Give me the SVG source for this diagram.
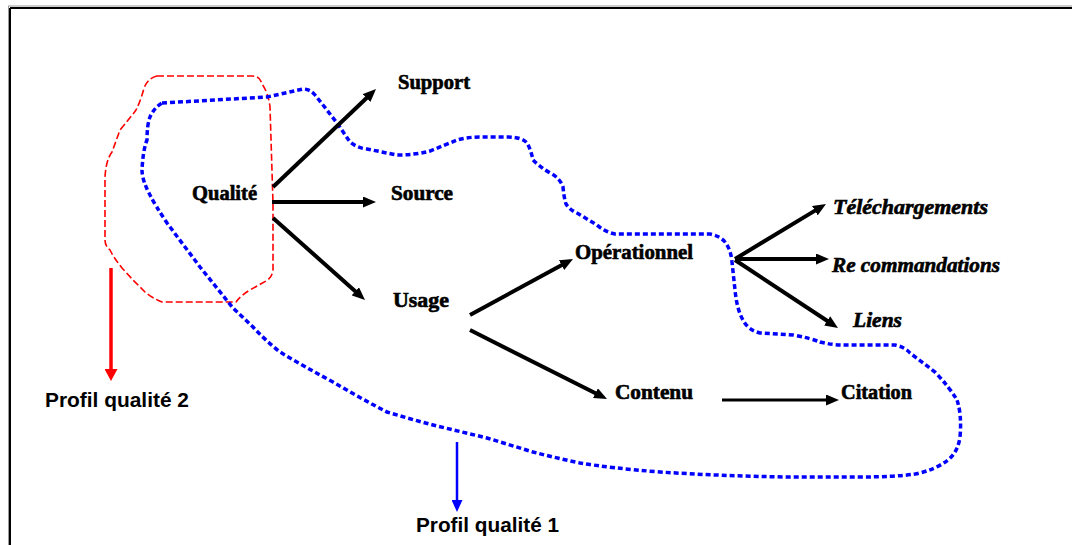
<svg xmlns="http://www.w3.org/2000/svg" width="1072" height="545" viewBox="0 0 1072 545">
  <style>
    .lbl { font-family: "Liberation Serif", "Times New Roman", serif; font-weight: bold; font-size: 20px; fill: #000; stroke: #000; stroke-width: 0.6; }
    .it { font-style: italic; }
    .prof { font-family: "Liberation Sans", Arial, sans-serif; font-weight: bold; font-size: 20px; fill: #000; }
    .arr { stroke: #000; stroke-width: 4; fill: none; marker-end: url(#head); }
    .arr-thin { stroke: #000; stroke-width: 3; fill: none; marker-end: url(#head); }
    .zone2 { fill: none; stroke: #ff0000; stroke-width: 1.6; stroke-dasharray: 7 3; }
    .zone1 { fill: none; stroke: #0000ff; stroke-width: 3.5; stroke-dasharray: 5 3; }
  </style>
  <defs>
    <marker id="head" markerUnits="userSpaceOnUse" markerWidth="13" markerHeight="11" refX="4" refY="5.5" orient="auto">
      <path d="M0,0 L13,5.5 L0,11 Z" fill="#000"/>
    </marker>
    <marker id="head-red" markerUnits="userSpaceOnUse" markerWidth="12" markerHeight="13" refX="4" refY="6.5" orient="auto">
      <path d="M0,0 L12,6.5 L0,13 Z" fill="#ff0000"/>
    </marker>
    <marker id="head-blue" markerUnits="userSpaceOnUse" markerWidth="12" markerHeight="11" refX="4" refY="5.5" orient="auto">
      <path d="M0,0 L12,5.5 L0,11 Z" fill="#0000ff"/>
    </marker>
  </defs>

  <rect width="1072" height="545" fill="#fff"/>

  <!-- page frame (top and left edges) -->
  <g id="frame">
    <line x1="8" y1="6" x2="1072" y2="6" stroke="#999" stroke-width="1"/>
    <line x1="8.5" y1="6" x2="8.5" y2="545" stroke="#999" stroke-width="1"/>
    <line x1="10" y1="8" x2="1072" y2="8" stroke="#000" stroke-width="2"/>
    <line x1="10" y1="8" x2="10" y2="545" stroke="#000" stroke-width="2"/>
  </g>

  <!-- quality profile outlines -->
  <g id="profil-2-zone">
    <path class="zone2" d="M157,76 L252,76 Q260,76 262,84 Q268,92 270,107 L273,203 L273,270 Q272,278 266,281 L250,290 Q240,296 236,302 L162,302 Q152,298 145,292 L133,280 L122,268 Q114,258 110,250 Q105,246 105,240 L105,177 Q106,160 112,152 L120,130 Q130,118 136,110 Q141,100 144,88 Q148,78 157,76 Z"/>
  </g>
  <g id="profil-1-zone">
    <path class="zone1" d="M162,103 L267,97 Q290,92 303,89 Q310,89 315,95 L323,105 L337,123 L350,142 Q357,148 367,149 L397,155 Q415,155 430,151 Q445,145 457,140 Q468,137 480,137 L507,137 Q522,137 527,143 Q531,150 533,160 Q540,167 550,173 Q560,178 563,187 Q564,198 566,204 Q570,210 577,213 L597,225 Q605,232 615,234 L710,234 Q720,236 725,242 Q731,250 732,262 L735,290 Q737,310 743,320 Q748,330 760,333 L793,335 Q810,338 820,342 Q832,345 843,345 L895,345 Q905,347 910,353 L935,372 Q950,388 957,400 Q962,415 960,437 Q958,452 948,460 Q935,470 915,474 Q895,477 860,477 L790,477 Q720,476 660,472 Q610,468 580,463 Q556,458 533,452 Q510,445 487,438 L433,425 Q410,419 387,412 Q360,398 333,382 Q305,367 280,352 Q265,340 253,327 L233,308 L200,267 L167,223 Q155,205 150,195 Q142,180 142,170 Q143,150 147,140 Q147,125 150,117 Q154,108 162,103 Z"/>
  </g>

  <!-- connectors -->
  <g id="connectors">
    <line class="arr" x1="273" y1="187" x2="369.5" y2="95.2"/>
    <line class="arr" x1="272" y1="202" x2="367" y2="202"/>
    <line class="arr" x1="273" y1="218" x2="358.3" y2="294"/>
    <line class="arr" x1="470" y1="315" x2="565.1" y2="263.3"/>
    <line class="arr" x1="470" y1="330" x2="599" y2="395"/>
    <line class="arr" x1="735" y1="259" x2="818.3" y2="208.6"/>
    <line class="arr" x1="735" y1="259" x2="820" y2="259"/>
    <line class="arr" x1="735" y1="260" x2="830.5" y2="323"/>
    <line class="arr-thin" x1="722" y1="400" x2="830" y2="400"/>
    <line x1="111" y1="268" x2="111" y2="373" stroke="#ff0000" stroke-width="3.5" marker-end="url(#head-red)"/>
    <line x1="457" y1="442" x2="457" y2="504" stroke="#0000ff" stroke-width="2.5" marker-end="url(#head-blue)"/>
  </g>

  <!-- nodes -->
  <g id="qualite"><text class="lbl" x="192" y="200" textLength="65" lengthAdjust="spacingAndGlyphs">Qualité</text></g>
  <g id="support"><text class="lbl" x="398" y="89" textLength="72" lengthAdjust="spacingAndGlyphs">Support</text></g>
  <g id="source"><text class="lbl" x="391" y="200" textLength="62" lengthAdjust="spacingAndGlyphs">Source</text></g>
  <g id="usage"><text class="lbl" x="393" y="307" textLength="56" lengthAdjust="spacingAndGlyphs">Usage</text></g>
  <g id="operationnel"><text class="lbl" x="575" y="259" textLength="118" lengthAdjust="spacingAndGlyphs">Opérationnel</text></g>
  <g id="contenu"><text class="lbl" x="615" y="399" textLength="78" lengthAdjust="spacingAndGlyphs">Contenu</text></g>
  <g id="citation"><text class="lbl" x="841" y="399" textLength="71" lengthAdjust="spacingAndGlyphs">Citation</text></g>
  <g id="telechargements"><text class="lbl it" x="833" y="214" textLength="155" lengthAdjust="spacingAndGlyphs">Téléchargements</text></g>
  <g id="recommandations"><text class="lbl it" x="832" y="272" textLength="168" lengthAdjust="spacingAndGlyphs">Re commandations</text></g>
  <g id="liens"><text class="lbl it" x="853" y="327" textLength="49" lengthAdjust="spacingAndGlyphs">Liens</text></g>
  <g id="profil-2"><text class="prof" x="45" y="407" textLength="144" lengthAdjust="spacingAndGlyphs">Profil qualité 2</text></g>
  <g id="profil-1"><text class="prof" x="416" y="532" textLength="143" lengthAdjust="spacingAndGlyphs">Profil qualité 1</text></g>
</svg>
